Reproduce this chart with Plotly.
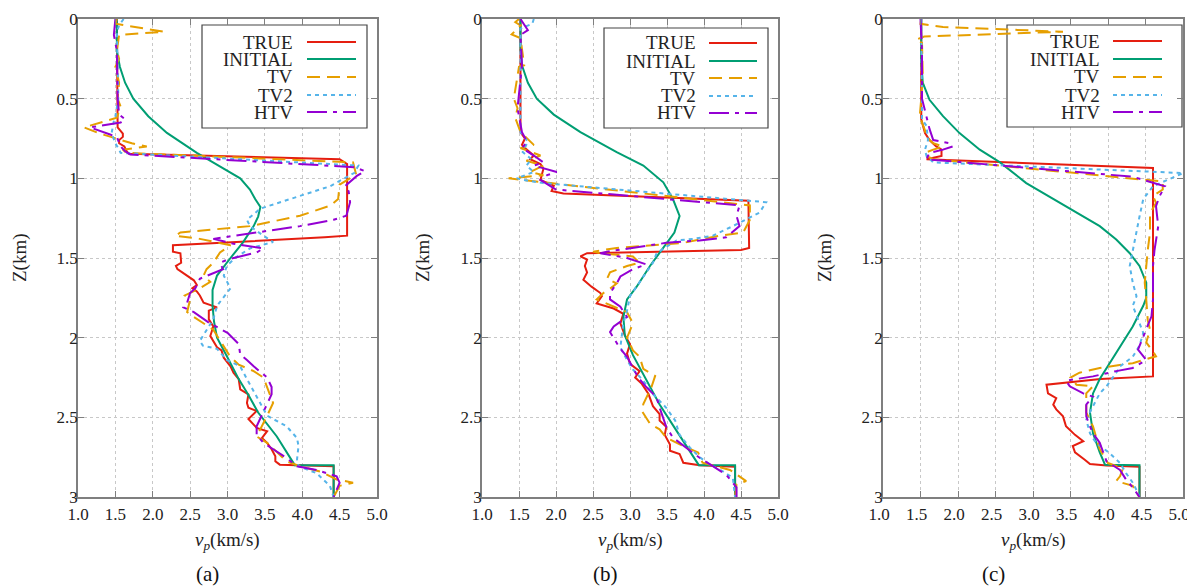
import plotly.graph_objects as go

# ---------------- data: [depth z (km), vp (km/s)] ----------------
A_TRUE = [[0,1.52],[0.65,1.52],[0.68,1.53],[0.72,1.6],[0.74,1.6],[0.76,1.55],[0.78,1.55],[0.8,1.62],[0.83,1.65],[0.845,1.68],[0.88,4.5],[0.91,4.6],[1.36,4.6],[1.37,4.3],[1.42,2.27],[1.46,2.27],[1.47,2.37],[1.53,2.38],[1.55,2.31],[1.57,2.33],[1.61,2.46],[1.64,2.55],[1.67,2.59],[1.69,2.53],[1.71,2.59],[1.735,2.63],[1.78,2.68],[1.81,2.86],[1.83,2.75],[1.885,2.75],[1.93,2.81],[1.99,2.77],[2.06,2.86],[2.08,2.92],[2.126,2.95],[2.18,3.04],[2.22,3.08],[2.26,3.15],[2.325,3.17],[2.356,3.28],[2.41,3.26],[2.44,3.28],[2.46,3.39],[2.51,3.28],[2.566,3.39],[2.587,3.53],[2.63,3.46],[2.66,3.53],[2.70,3.59],[2.744,3.64],[2.776,3.64],[2.797,3.70],[2.807,4.42],[3.0,4.42]]
A_INIT = [[0,1.52],[0.2,1.52],[0.3,1.56],[0.4,1.63],[0.5,1.74],[0.61,1.94],[0.715,2.19],[0.84,2.59],[0.92,2.88],[1.0,3.17],[1.07,3.3],[1.13,3.37],[1.18,3.44],[1.24,3.41],[1.3,3.35],[1.4,3.21],[1.5,3.04],[1.61,2.86],[1.7,2.8],[1.8,2.8],[1.9,2.82],[2.0,2.86],[2.115,2.99],[2.26,3.15],[2.36,3.28],[2.47,3.41],[2.62,3.66],[2.8,3.9],[2.8,4.42],[3.0,4.42]]
A_TV = [[0,1.52],[0.03,1.5],[0.08,2.15],[0.1,1.55],[0.2,1.52],[0.25,1.55],[0.3,1.5],[0.4,1.55],[0.5,1.53],[0.55,1.57],[0.62,1.52],[0.68,1.08],[0.72,1.3],[0.75,1.5],[0.78,1.72],[0.8,1.92],[0.82,1.6],[0.84,1.65],[0.9,4.68],[0.975,4.72],[1.01,4.6],[1.04,4.5],[1.13,4.48],[1.17,4.38],[1.235,3.97],[1.3,3.3],[1.34,2.37],[1.36,2.3],[1.38,2.63],[1.42,3.04],[1.465,2.9],[1.53,2.81],[1.57,2.72],[1.61,2.68],[1.65,2.77],[1.69,2.63],[1.735,2.43],[1.76,2.5],[1.84,2.46],[1.87,2.55],[1.95,2.81],[2.02,2.9],[2.115,3.03],[2.17,3.15],[2.21,3.35],[2.25,3.48],[2.356,3.57],[2.41,3.61],[2.49,3.53],[2.56,3.45],[2.62,3.39],[2.66,3.53],[2.72,3.66],[2.776,3.79],[2.807,3.97],[2.84,4.24],[2.89,4.46],[2.91,4.68],[2.93,4.5],[3.0,4.42]]
A_TV2 = [[0,1.61],[0.04,1.55],[0.08,1.52],[0.3,1.53],[0.5,1.54],[0.61,1.5],[0.64,1.48],[0.715,1.45],[0.78,1.5],[0.82,1.55],[0.84,1.57],[0.92,4.75],[0.965,4.7],[1.05,4.37],[1.13,3.84],[1.19,3.44],[1.26,3.26],[1.3,3.3],[1.36,3.48],[1.40,3.61],[1.44,3.3],[1.5,3.1],[1.55,2.99],[1.61,2.95],[1.69,3.04],[1.72,2.99],[1.8,2.86],[1.885,2.81],[2.02,2.63],[2.05,2.67],[2.07,2.86],[2.14,2.99],[2.18,3.17],[2.26,3.26],[2.41,3.44],[2.49,3.53],[2.556,3.79],[2.63,3.93],[2.68,3.95],[2.765,3.93],[2.807,3.95],[2.85,4.19],[2.93,4.37],[3.0,4.42]]
A_HTV = [[0,1.5],[0.1,1.48],[0.2,1.52],[0.5,1.53],[0.6,1.55],[0.63,1.63],[0.65,1.57],[0.68,1.16],[0.725,1.43],[0.74,1.52],[0.8,1.57],[0.83,1.63],[0.85,1.7],[0.93,4.7],[0.955,4.84],[0.985,4.73],[1.05,4.57],[1.08,4.62],[1.15,4.64],[1.235,4.59],[1.26,4.42],[1.3,3.97],[1.33,3.53],[1.38,2.81],[1.41,3.08],[1.44,3.48],[1.465,3.39],[1.49,3.15],[1.51,3.0],[1.53,2.9],[1.57,2.94],[1.63,2.63],[1.69,2.57],[1.72,2.5],[1.78,2.46],[1.81,2.41],[1.84,2.55],[1.905,2.75],[1.97,3.0],[2.04,3.15],[2.105,3.17],[2.14,3.26],[2.18,3.35],[2.25,3.53],[2.31,3.59],[2.356,3.59],[2.47,3.48],[2.556,3.39],[2.61,3.39],[2.66,3.48],[2.755,3.79],[2.807,3.93],[2.83,4.19],[2.87,4.46],[2.91,4.5],[2.975,4.44],[3.0,4.42]]

B_TRUE = [[0,1.52],[0.71,1.52],[0.75,1.58],[0.79,1.54],[0.81,1.58],[0.857,1.7],[0.88,1.65],[0.91,1.79],[0.94,1.83],[0.98,1.81],[1.01,1.79],[1.046,1.97],[1.08,1.94],[1.095,2.1],[1.14,4.6],[1.437,4.61],[1.45,4.5],[1.47,2.42],[1.49,2.33],[1.51,2.42],[1.55,2.39],[1.59,2.42],[1.637,2.37],[1.68,2.48],[1.72,2.6],[1.74,2.62],[1.785,2.55],[1.817,2.78],[1.85,2.91],[1.91,2.87],[1.985,2.93],[2.04,3.0],[2.10,2.96],[2.164,3.0],[2.21,3.13],[2.25,3.07],[2.29,3.16],[2.354,3.25],[2.43,3.31],[2.48,3.4],[2.52,3.4],[2.56,3.49],[2.61,3.47],[2.67,3.54],[2.71,3.54],[2.73,3.67],[2.785,3.72],[2.80,3.94],[2.81,4.42],[3.0,4.42]]
B_INIT = [[0,1.52],[0.18,1.52],[0.29,1.54],[0.4,1.62],[0.5,1.74],[0.6,1.97],[0.71,2.33],[0.835,2.82],[0.92,3.18],[1.025,3.45],[1.13,3.58],[1.236,3.67],[1.34,3.6],[1.437,3.45],[1.55,3.27],[1.68,3.09],[1.76,2.96],[1.87,2.91],[1.985,2.93],[2.11,3.04],[2.25,3.2],[2.42,3.4],[2.585,3.63],[2.71,3.81],[2.8,3.93],[2.8,4.42],[3.0,4.42]]
B_TV = [[0,1.5],[0.02,1.45],[0.04,1.52],[0.097,1.4],[0.12,1.52],[0.29,1.57],[0.3,1.5],[0.5,1.43],[0.56,1.48],[0.62,1.45],[0.71,1.52],[0.79,1.7],[0.81,1.52],[0.857,1.79],[0.89,1.6],[0.92,1.83],[0.96,1.65],[0.98,1.83],[1.0,1.36],[1.01,1.54],[1.03,1.93],[1.17,4.62],[1.26,4.62],[1.34,4.53],[1.36,4.21],[1.405,3.72],[1.437,2.82],[1.46,2.5],[1.47,2.6],[1.49,3.04],[1.53,3.13],[1.55,2.96],[1.59,2.73],[1.63,2.69],[1.66,2.82],[1.7,2.71],[1.72,2.64],[1.76,2.55],[1.806,2.78],[1.84,2.96],[1.91,3.04],[2.0,2.96],[2.08,3.04],[2.12,3.13],[2.196,3.18],[2.24,3.34],[2.31,3.29],[2.417,3.18],[2.46,3.16],[2.54,3.27],[2.575,3.4],[2.627,3.49],[2.68,3.72],[2.72,3.92],[2.785,3.98],[2.83,4.35],[2.9,4.57],[2.92,4.44],[3.0,4.42]]
B_TV2 = [[0,1.7],[0.03,1.68],[0.06,1.52],[0.4,1.52],[0.71,1.52],[0.77,1.62],[0.835,1.55],[0.88,1.67],[0.92,1.6],[0.96,1.7],[1.0,1.47],[1.01,1.56],[1.03,1.83],[1.15,4.84],[1.215,4.75],[1.3,4.39],[1.36,4.12],[1.38,3.85],[1.39,3.63],[1.43,3.49],[1.47,3.36],[1.53,3.31],[1.616,3.18],[1.68,3.09],[1.74,3.0],[1.83,2.96],[1.91,2.91],[2.06,2.87],[2.14,2.96],[2.2,3.04],[2.27,3.18],[2.354,3.31],[2.44,3.49],[2.52,3.61],[2.61,3.67],[2.69,3.81],[2.75,3.94],[2.796,4.08],[2.84,4.26],[2.88,4.39],[3.0,4.42]]
B_HTV = [[0,1.52],[0.03,1.56],[0.07,1.62],[0.1,1.52],[0.29,1.54],[0.56,1.48],[0.62,1.5],[0.71,1.54],[0.77,1.61],[0.81,1.54],[0.857,1.7],[0.9,1.83],[0.92,1.7],[0.96,2.01],[0.98,1.88],[1.01,1.79],[1.05,1.93],[1.07,2.0],[1.17,4.48],[1.236,4.44],[1.30,4.48],[1.37,4.3],[1.39,3.94],[1.405,3.49],[1.46,2.69],[1.47,2.6],[1.5,2.96],[1.54,3.22],[1.57,3.04],[1.616,2.87],[1.66,2.82],[1.72,2.73],[1.76,2.73],[1.806,2.87],[1.87,2.96],[1.93,2.78],[1.965,2.73],[2.07,2.87],[2.12,2.96],[2.185,3.04],[2.25,3.11],[2.31,3.22],[2.375,3.36],[2.44,3.4],[2.5,3.45],[2.56,3.49],[2.627,3.58],[2.69,3.76],[2.754,3.94],[2.806,4.12],[2.86,4.3],[2.94,4.44],[3.0,4.44]]

C_TRUE = [[0,1.51],[0.63,1.51],[0.716,1.56],[0.76,1.62],[0.8,1.71],[0.82,1.78],[0.86,1.78],[0.88,1.58],[0.935,4.6],[2.243,4.6],[2.26,3.9],[2.295,3.18],[2.35,3.2],[2.38,3.31],[2.42,3.27],[2.45,3.31],[2.494,3.4],[2.556,3.44],[2.61,3.56],[2.65,3.67],[2.68,3.53],[2.72,3.56],[2.766,3.69],[2.793,3.76],[2.803,3.98],[2.81,4.42],[3.0,4.42]]
C_INIT = [[0,1.51],[0.26,1.51],[0.4,1.53],[0.507,1.62],[0.61,1.8],[0.716,2.02],[0.82,2.29],[0.9,2.56],[1.03,2.91],[1.13,3.27],[1.217,3.58],[1.3,3.89],[1.384,4.11],[1.47,4.29],[1.55,4.42],[1.655,4.51],[1.75,4.51],[1.8,4.47],[1.93,4.33],[2.03,4.2],[2.16,4.02],[2.26,3.89],[2.35,3.8],[2.47,3.76],[2.6,3.8],[2.72,3.89],[2.797,3.96],[2.8,4.42],[3.0,4.42]]
C_TV = [[0,1.51],[0.03,1.5],[0.05,1.8],[0.08,3.4],[0.11,1.55],[0.13,1.44],[0.15,1.52],[0.35,1.53],[0.5,1.51],[0.61,1.49],[0.7,1.56],[0.74,1.58],[0.78,1.67],[0.8,1.8],[0.82,1.67],[0.84,1.56],[0.86,1.58],[0.88,1.67],[1.02,4.73],[1.07,4.73],[1.11,4.6],[1.155,4.64],[1.22,4.56],[1.34,4.56],[1.45,4.53],[1.55,4.51],[1.655,4.49],[1.76,4.51],[1.89,4.53],[1.95,4.56],[2.03,4.51],[2.086,4.6],[2.117,4.64],[2.16,4.33],[2.19,3.89],[2.22,3.62],[2.25,3.5],[2.295,3.58],[2.305,3.8],[2.35,3.71],[2.47,3.71],[2.556,3.8],[2.62,3.84],[2.7,3.89],[2.787,4.0],[2.82,4.2],[2.87,4.16],[2.9,4.11],[2.93,4.33],[2.975,4.38],[3.0,4.42]]
C_TV2 = [[0,1.51],[0.4,1.52],[0.63,1.52],[0.67,1.58],[0.76,1.6],[0.82,1.56],[0.86,1.58],[0.9,1.67],[0.967,5.0],[1.05,4.6],[1.13,4.47],[1.24,4.42],[1.34,4.38],[1.47,4.33],[1.55,4.29],[1.655,4.33],[1.74,4.38],[1.8,4.33],[1.91,4.42],[1.97,4.47],[2.05,4.42],[2.12,4.33],[2.18,4.16],[2.22,4.11],[2.305,3.98],[2.35,3.89],[2.43,3.8],[2.515,3.71],[2.6,3.76],[2.66,3.84],[2.724,4.02],[2.787,4.16],[2.85,4.24],[2.91,4.33],[2.975,4.4],[3.0,4.42]]
C_HTV = [[0,1.5],[0.2,1.52],[0.5,1.52],[0.69,1.62],[0.76,1.67],[0.78,1.89],[0.8,1.93],[0.82,1.8],[0.84,1.62],[0.88,1.58],[0.99,4.33],[1.05,4.76],[1.11,4.69],[1.175,4.64],[1.3,4.67],[1.45,4.62],[1.55,4.6],[1.76,4.6],[1.866,4.58],[1.95,4.51],[2.075,4.4],[2.14,4.51],[2.19,4.33],[2.21,4.11],[2.243,3.8],[2.27,3.44],[2.305,3.49],[2.35,3.67],[2.37,3.8],[2.42,3.71],[2.494,3.71],[2.556,3.76],[2.6,3.8],[2.66,3.89],[2.776,3.98],[2.83,4.16],[2.89,4.24],[2.94,4.33],[3.0,4.42]]

SERIES_NAMES = ["TRUE", "INITIAL", "TV", "TV2", "HTV"]
PANELS = [
    ("(a)", [A_TRUE, A_INIT, A_TV, A_TV2, A_HTV]),
    ("(b)", [B_TRUE, B_INIT, B_TV, B_TV2, B_HTV]),
    ("(c)", [C_TRUE, C_INIT, C_TV, C_TV2, C_HTV]),
]
X_TICKS = [1.0, 1.5, 2.0, 2.5, 3.0, 3.5, 4.0, 4.5, 5.0]
Y_TICKS = [0, 0.5, 1, 1.5, 2, 2.5, 3]
Y_TICKTEXT = ["0", "0.5", "1", "1.5", "2", "2.5", "3"]
X_RANGE = [1, 5]
Y_RANGE = [3, 0]

# ---------------- styling ----------------
PAGE_W, PAGE_H = 1195, 588
OFF = 8                      # default page margin of the html body
W, H = PAGE_W - OFF, PAGE_H - OFF
FONT = "Liberation Serif, DejaVu Serif, serif"
STYLES = [
    dict(color="#e51e10", dash="solid"),
    dict(color="#009e73", dash="solid"),
    dict(color="#e69f00", dash="13px,7px"),
    dict(color="#56b4e9", dash="4px,4px"),
    dict(color="#9400d3", dash="20px,6px,4px,6px"),
]
X_PX = [(78, 377), (482, 778), (883, 1183)]
Y_TOP, Y_BOT = 19, 497
LEG = [  # box x0,x1,y0,y1 ; text right ; line x0,x1 ; rows (page pixels)
    dict(box=(202, 367, 25, 128), tr=295, lx=(307, 356), rows=[42, 59, 77, 95, 112]),
    dict(box=(604, 768, 28, 128), tr=698, lx=(709, 757), rows=[43, 61, 78, 96, 113]),
    dict(box=(1007, 1182, 25, 127), tr=1102, lx=(1113, 1162), rows=[41, 59, 77, 95, 112]),
]
YTITLE_X = [20, 423, 825]
XTITLE_X = [227, 630, 1033]
CAP_X = [207, 606, 993]
CAP_Y = 574
LABEL_SHIFT = [0, 0, -4]     # keeps the right-most label of (c) inside the page
TXT = "#222222"


def fx(p):
    return (p - OFF) / W


def fy(p):
    return 1 - (p - OFF) / H


fig = go.Figure()
annotations = []
shapes = []

for i, (cap, series) in enumerate(PANELS):
    xa = "x" if i == 0 else f"x{i+1}"
    ya = "y" if i == 0 else f"y{i+1}"
    for name, data, st in zip(SERIES_NAMES, series, STYLES):
        z = [p[0] for p in data]
        v = [p[1] for p in data]
        fig.add_trace(go.Scatter(x=v, y=z, mode="lines", name=name, showlegend=False,
                                 line=dict(color=st["color"], dash=st["dash"], width=2),
                                 xaxis=xa, yaxis=ya, hoverinfo="skip"))
    x0, x1 = X_PX[i]
    ax_common = dict(showline=True, linecolor="#7f7f7f", linewidth=1.5, mirror="ticks",
                     ticks="inside", ticklen=6, tickwidth=1.2, tickcolor="#7f7f7f",
                     showgrid=True, gridcolor="#c8c8c8", griddash="dot", gridwidth=1,
                     zeroline=False, automargin=False, ticklabeloverflow="allow",
                     tickfont=dict(family=FONT, size=17, color=TXT))
    fig.update_layout(**{
        ("xaxis" if i == 0 else f"xaxis{i+1}"): dict(
            domain=[fx(x0), fx(x1)], range=X_RANGE, tickvals=X_TICKS,
            ticktext=[f"{t:.1f}" for t in X_TICKS], anchor=ya, ticklabelstandoff=1,
            ticklabelshift=LABEL_SHIFT[i], **ax_common),
        ("yaxis" if i == 0 else f"yaxis{i+1}"): dict(
            domain=[fy(Y_BOT), fy(Y_TOP)], range=Y_RANGE, tickvals=Y_TICKS,
            ticktext=Y_TICKTEXT, anchor=xa, ticklabelstandoff=-5, **ax_common),
    })

    def px2v(p):
        return X_RANGE[0] + (p - x0) / (x1 - x0) * (X_RANGE[1] - X_RANGE[0])

    def py2z(p):
        return Y_RANGE[1] + (p - Y_TOP) / (Y_BOT - Y_TOP) * (Y_RANGE[0] - Y_RANGE[1])

    lg = LEG[i]
    bx0, bx1, by0, by1 = lg["box"]
    shapes.append(dict(type="rect", xref=xa, yref=ya,
                       x0=px2v(bx0), x1=px2v(bx1), y0=py2z(by0), y1=py2z(by1),
                       line=dict(color="#444444", width=1.2), fillcolor="white", layer="between"))
    for name, st, ry in zip(SERIES_NAMES, STYLES, lg["rows"]):
        shapes.append(dict(type="line", xref=xa, yref=ya,
                           x0=px2v(lg["lx"][0]), x1=px2v(lg["lx"][1]), y0=py2z(ry), y1=py2z(ry),
                           line=dict(color=st["color"], dash=st["dash"], width=2), layer="above"))
        annotations.append(dict(text=name, xref="paper", yref="paper", x=fx(lg["tr"]), y=fy(ry),
                                xanchor="right", yanchor="middle", showarrow=False,
                                font=dict(family=FONT, size=19, color=TXT)))
    annotations.append(dict(text="Z(km)", xref="paper", yref="paper", x=fx(YTITLE_X[i]),
                            y=fy(258), textangle=-90, xanchor="center", yanchor="middle",
                            showarrow=False, font=dict(family=FONT, size=19, color=TXT)))
    annotations.append(dict(text="<i>v<sub>p</sub></i>(km/s)", xref="paper", yref="paper",
                            x=fx(XTITLE_X[i]), y=fy(541), xanchor="center", yanchor="middle",
                            showarrow=False, font=dict(family=FONT, size=19, color=TXT)))
    annotations.append(dict(text=cap, xref="paper", yref="paper", x=fx(CAP_X[i]), y=fy(CAP_Y),
                            xanchor="center", yanchor="middle", showarrow=False,
                            font=dict(family=FONT, size=21, color="#111111")))

fig.update_layout(template="none", width=W, height=H, margin=dict(l=0, r=0, t=0, b=0, pad=0),
                  paper_bgcolor="white", plot_bgcolor="white",
                  annotations=annotations, shapes=shapes, showlegend=False,
                  font=dict(family=FONT))
fig.write_html("out.html")
